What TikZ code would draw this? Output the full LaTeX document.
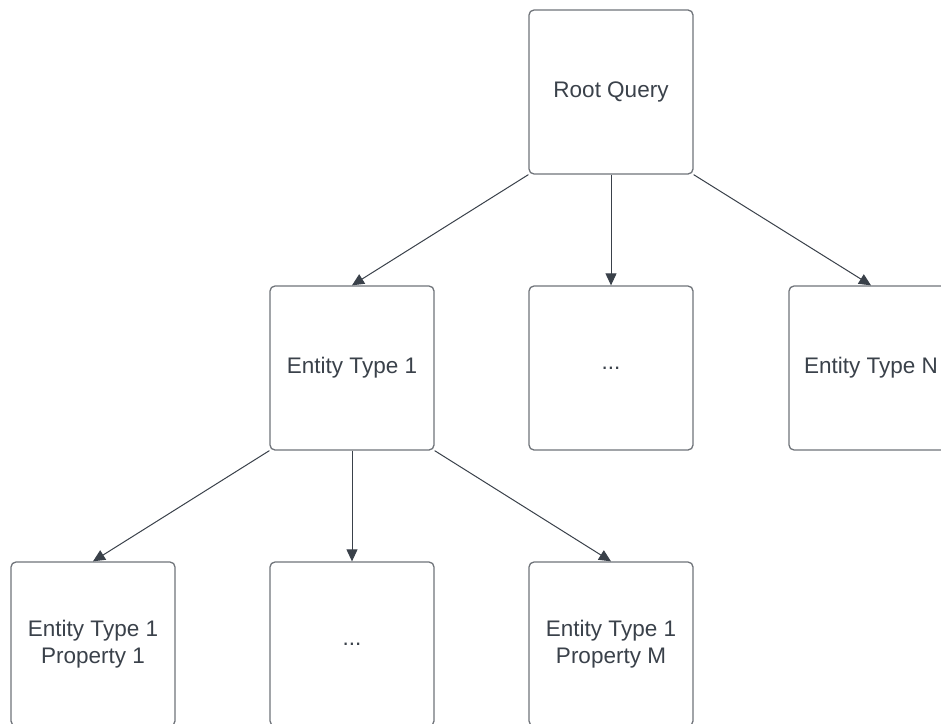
\documentclass[tikz,border=0pt]{standalone}
\usepackage{fontspec}
\setmainfont{Liberation Sans}
\usepackage{tikz}
\usetikzlibrary{arrows.meta,positioning}
\definecolor{grisborde}{RGB}{112,116,122}
\definecolor{grisflecha}{RGB}{58,65,74}
\definecolor{gristexto}{RGB}{58,65,74}
\tikzstyle{entidad} = [draw=grisborde, line width=1.3pt, rectangle, rounded corners=5pt, minimum width=164pt, minimum height=164pt, inner sep=0pt, align=center, text=gristexto, font=\fontsize{22.5}{27}\selectfont]
\tikzstyle{flecha} = [draw=grisflecha, line width=1pt, -{Triangle[length=12pt,width=11pt]}]

\begin{document}
\begin{tikzpicture}[x=1pt,y=1pt]
	\useasboundingbox (0,0) rectangle (941,-723);
	\fill[white] (0,0) rectangle (941,-723);
	% raiz
	\node [entidad] (raiz) at (611,-92) {Root Query};
	% tipos de entidad
	\node [entidad] (tipo1) at (352,-368) {Entity Type 1};
	\node [entidad] (tipodots) at (611,-368) {...};
	\node [entidad] (tipoN) at (871,-368) {Entity Type N};
	% propiedades
	\node [entidad] (prop1) at (93,-644) {Entity Type 1\\Property 1};
	\node [entidad] (propdots) at (352,-644) {...};
	\node [entidad] (propM) at (611,-644) {Entity Type 1\\Property M};
	% flechas
	\draw [flecha] (raiz.south west) -- (tipo1.north);
	\draw [flecha] (raiz.south) -- (tipodots.north);
	\draw [flecha] (raiz.south east) -- (tipoN.north);
	\draw [flecha] (tipo1.south west) -- (prop1.north);
	\draw [flecha] (tipo1.south) -- (propdots.north);
	\draw [flecha] (tipo1.south east) -- (propM.north);
\end{tikzpicture}
\end{document}
